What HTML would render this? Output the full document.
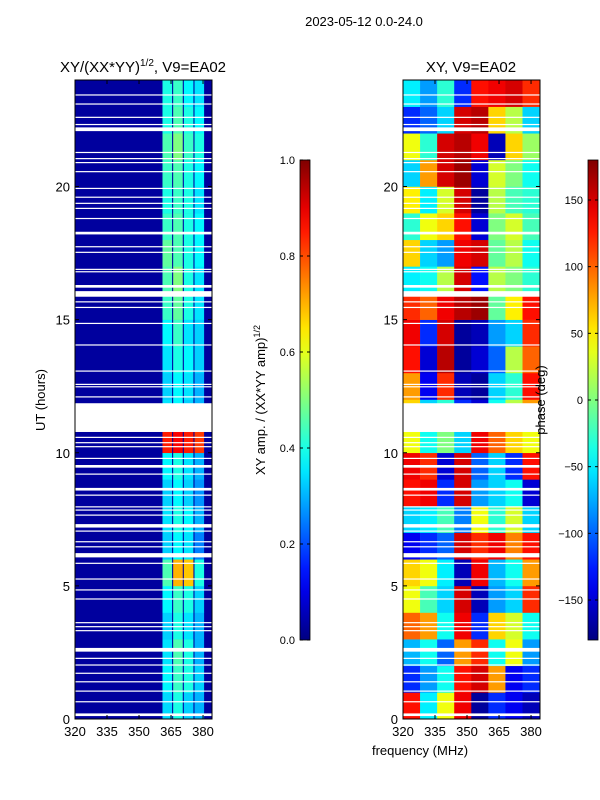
<!DOCTYPE html>
<html><head><meta charset="utf-8">
<style>
body{margin:0;background:#fff;width:600px;height:800px;overflow:hidden}
svg{display:block}
text{font-family:"Liberation Sans","DejaVu Sans",sans-serif;fill:#000}
</style></head>
<body>
<svg id="chart" width="600" height="800" xmlns="http://www.w3.org/2000/svg"></svg>
<script>
// ---- data ----
const hours = [0,1,2,3,4,5,6,7,8,9,10,11,12,13,14,15,16,17,18,19,20,21,22,23];
const phaseBands = [320,328,336,344,352,360,368,376,384];
// phase (deg) per hour row (0..23) per 8-MHz band
const phase = [
 [130,-50,40,140,-170,-120,-140,-160],
 [-120,-80,-40,130,150,80,-140,-120],
 [-70,-40,-100,80,120,-40,40,-80],
 [100,80,-40,140,-120,60,30,-40],
 [40,-20,-60,150,-160,-80,-60,120],
 [60,40,-50,-160,140,-70,-40,80],
 [-140,-120,-100,150,120,140,90,130],
 [-60,-50,-20,-90,40,-30,30,-60],
 [130,140,-120,150,-80,-60,-40,-150],
 [140,120,-150,150,-100,-60,-120,130],
 [40,-40,0,-60,140,100,60,40],
 [60,-60,-30,-120,-150,-40,20,80],
 [80,-140,120,-160,-170,-60,-30,130],
 [130,-150,160,-170,-150,-100,20,100],
 [140,-120,150,-170,-160,-80,-60,120],
 [120,100,140,160,170,-10,50,130],
 [-50,-40,20,150,-130,20,0,-30],
 [60,-60,-80,140,150,-10,20,-40],
 [-30,40,60,130,-150,0,30,-20],
 [50,-50,30,150,-170,20,-20,-30],
 [-60,80,150,170,-150,30,0,-40],
 [40,-30,150,160,140,-160,60,10],
 [-120,-100,-60,150,160,60,20,-60],
 [-50,-80,-30,-120,130,140,150,120]
];
const ampBands = [[361,365.5],[366,370.5],[371,375.5],[376,380.5]];
const ampBackground = 0.03;
// amplitude per hour row per sub-band
const amp = [
 [0.34,0.40,0.33,0.30],[0.37,0.43,0.40,0.33],[0.35,0.45,0.40,0.30],[0.33,0.40,0.35,0.30],
 [0.37,0.43,0.40,0.33],[0.45,0.70,0.68,0.40],[0.33,0.37,0.35,0.25],[0.35,0.40,0.37,0.30],
 [0.33,0.37,0.33,0.27],[0.37,0.40,0.35,0.30],[0.85,0.88,0.85,0.82],[0.35,0.37,0.33,0.30],
 [0.33,0.37,0.35,0.30],[0.35,0.40,0.37,0.33],[0.37,0.43,0.35,0.33],[0.43,0.47,0.40,0.35],
 [0.45,0.50,0.40,0.35],[0.47,0.45,0.40,0.37],[0.43,0.45,0.40,0.37],[0.40,0.43,0.40,0.35],
 [0.43,0.45,0.40,0.37],[0.45,0.50,0.43,0.40],[0.40,0.45,0.40,0.37],[0.40,0.43,0.37,0.35]
];
// flagged (white) time ranges in hours
const gaps = [[0.11,0.21],[0.63,0.67],[1.03,1.07],[1.38,1.42],[1.70,1.74],[2.01,2.05],[2.26,2.30],[2.53,2.67],[3.30,3.34],[3.45,3.49],[3.60,3.64],[4.49,4.53],[4.83,4.87],[5.24,5.28],[5.83,5.87],[6.07,6.23],[6.45,6.49],[6.64,6.68],[7.04,7.08],[7.19,7.32],[7.64,7.68],[7.83,7.87],[7.95,7.99],[8.39,8.43],[8.58,8.68],[9.18,9.22],[9.44,9.54],[9.77,9.81],[10.21,10.25],[10.36,10.40],[10.56,10.60],[10.78,11.86],[12.08,12.12],[12.46,12.50],[12.55,12.59],[13.05,13.09],[14.03,14.07],[14.84,14.88],[15.44,15.48],[15.65,15.69],[15.86,16.07],[16.20,16.30],[16.78,16.82],[16.87,16.91],[17.51,17.55],[17.72,17.76],[18.20,18.30],[18.78,18.82],[19.16,19.20],[19.35,19.39],[19.58,19.62],[19.91,19.95],[20.54,20.58],[20.88,20.92],[21.03,21.07],[21.26,21.30],[22.08,22.22],[22.31,22.35],[22.58,22.62],[23.08,23.12],[23.42,23.46]];
const xTicks = [320,335,350,365,380];
const yTicks = [0,5,10,15,20];
const ampTicks = [0.0,0.2,0.4,0.6,0.8,1.0];
const phaseTicks = [-150,-100,-50,0,50,100,150];

// ---- helpers ----
const NS="http://www.w3.org/2000/svg";
const svg=document.getElementById('chart');
function el(tag,attrs,parent){const e=document.createElementNS(NS,tag);for(const k in attrs)e.setAttribute(k,attrs[k]);(parent||svg).appendChild(e);return e;}
function jet(v){v=Math.max(0,Math.min(1,v));
 const r=Math.max(0,Math.min(1,1.5-Math.abs(4*v-3))),g=Math.max(0,Math.min(1,1.5-Math.abs(4*v-2))),b=Math.max(0,Math.min(1,1.5-Math.abs(4*v-1)));
 return `rgb(${Math.round(r*255)},${Math.round(g*255)},${Math.round(b*255)})`;}
const panels=[{x0:75,x1:212,name:'amp'},{x0:403,x1:540,name:'phase'}];
const Y0=80,Y1=719;
const yS=h=>Y1-(h/24)*(Y1-Y0);
const xS=(p,f)=>p.x0+(f-320)/(384.2-320)*(p.x1-p.x0);

// amplitude panel
const pA=panels[0];
const gA=el('g',{});


const bg=el('rect',{x:pA.x0,y:Y0,width:pA.x1-pA.x0,height:Y1-Y0,fill:jet(ampBackground)},gA);


hours.forEach((h,i)=>{ampBands.forEach((b,j)=>{
 const r=el('rect',{x:xS(pA,b[0]),y:yS(h+1),width:xS(pA,b[1])-xS(pA,b[0]),height:yS(h)-yS(h+1)+0.3,fill:jet(amp[i][j])},gA);
 
 
});});
// phase panel
const pP=panels[1];
const gP=el('g',{});


hours.forEach((h,i)=>{for(let j=0;j<phaseBands.length-1;j++){
 const x=xS(pP,phaseBands[j]),x2=Math.min(pP.x1,xS(pP,phaseBands[j+1]));
 const r=el('rect',{x:x,y:yS(h+1),width:x2-x+0.3,height:yS(h)-yS(h+1)+0.3,fill:jet((phase[i][j]+180)/360)},gP);
 
 
}});
// gaps, frames, ticks
panels.forEach((p,pi)=>{
 gaps.forEach(g=>{
  const r=el('rect',{x:p.x0,y:yS(g[1]),width:p.x1-p.x0,height:Math.max(1.2,yS(g[0])-yS(g[1])),fill:'#fff'});
  
  
 });
 const f=el('rect',{x:p.x0,y:Y0,width:p.x1-p.x0,height:Y1-Y0,fill:'none',stroke:'#000','stroke-width':1});
 
 
 xTicks.forEach(t=>{const x=xS(p,t);
  el('line',{x1:x,x2:x,y1:Y1,y2:Y1-4,stroke:'#000'});el('line',{x1:x,x2:x,y1:Y0,y2:Y0+4,stroke:'#000'});
  const tx=el('text',{x:x,y:736,'font-size':13,'text-anchor':'middle'});tx.textContent=t;
  
  
 });
 yTicks.forEach(t=>{const y=yS(t);
  el('line',{x1:p.x0,x2:p.x0+4,y1:y,y2:y,stroke:'#000'});el('line',{x1:p.x1,x2:p.x1-4,y1:y,y2:y,stroke:'#000'});
  const tx=el('text',{x:p.x0-5,y:y+5,'font-size':13,'text-anchor':'end'});tx.textContent=t;
  
  
 });
});
// colorbars
function colorbar(x,name,ticks,vmin,vmax){
 const defs=el('defs',{});
 const lg=el('linearGradient',{id:'g'+name,x1:0,y1:1,x2:0,y2:0},defs);
 for(let i=0;i<=20;i++)el('stop',{offset:i/20,'stop-color':jet(i/20)},lg);
 const r=el('rect',{x:x,y:160,width:10,height:480,fill:`url(#g${name})`,stroke:'#000','stroke-width':0.8});
 
 
 ticks.forEach(t=>{const y=640-(t-vmin)/(vmax-vmin)*480;
  el('line',{x1:x,x2:x+3,y1:y,y2:y,stroke:'#000'});el('line',{x1:x+10,x2:x+7,y1:y,y2:y,stroke:'#000'});
  const tx=el('text',{x:x-5,y:y+4,'font-size':11,'text-anchor':'end'});tx.textContent=(name==='amp'?t.toFixed(1):String(t).replace('-','\u2212'));
  
  
 });
}
colorbar(300,'amp',ampTicks,0,1);
colorbar(588,'phase',phaseTicks,-180,180);
</script>
<svg style="position:absolute;left:0;top:0" width="600" height="800">
<text x="364" y="26" font-size="13" text-anchor="middle">2023-05-12 0.0-24.0</text>
<text x="143" y="72" font-size="15" text-anchor="middle">XY/(XX*YY)<tspan font-size="10" dy="-6">1/2</tspan><tspan dy="6">, V9=EA02</tspan></text>
<text x="471" y="72" font-size="15" text-anchor="middle">XY, V9=EA02</text>
<text x="45" y="400" font-size="13" text-anchor="middle" transform="rotate(-90 45 400)">UT (hours)</text>
<text x="420" y="755" font-size="13" text-anchor="middle">frequency (MHz)</text>
<text x="265" y="400" font-size="13" text-anchor="middle" transform="rotate(-90 265 400)">XY amp. / (XX*YY amp)<tspan font-size="9" dy="-5">1/2</tspan></text>
<text x="545" y="400" font-size="13" text-anchor="middle" transform="rotate(-90 545 400)">phase (deg)</text>
</svg>
</body></html>
